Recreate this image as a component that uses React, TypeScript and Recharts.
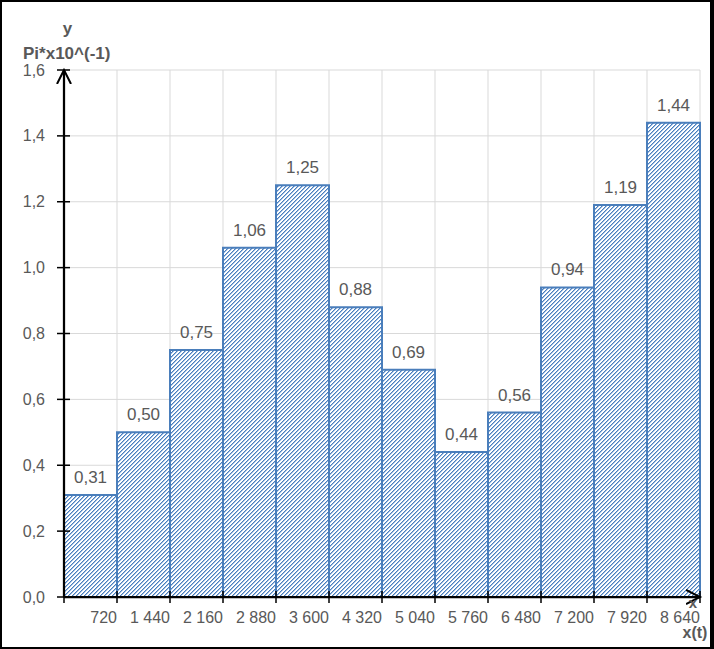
import React from 'react';
import { BarChart, Bar, XAxis, YAxis, CartesianGrid, LabelList } from 'recharts';

// Right edge of each class interval (t)
const binEdges = [720, 1440, 2160, 2880, 3600, 4320, 5040, 5760, 6480, 7200, 7920, 8640];
// Pi * 10^(-1) for each interval
const piValues = [0.31, 0.5, 0.75, 1.06, 1.25, 0.88, 0.69, 0.44, 0.56, 0.94, 1.19, 1.44];
// Axis ticks
const xTicks = [0, 720, 1440, 2160, 2880, 3600, 4320, 5040, 5760, 6480, 7200, 7920, 8640];
const yTicks = [0, 0.2, 0.4, 0.6, 0.8, 1.0, 1.2, 1.4, 1.6];

const data = binEdges.map((edge, i) => ({ cat: String(edge), edge, value: piValues[i] }));

const GRAY_TEXT = '#595959';
const BLUE = '#4a7ebb';
const LIGHT_BLUE = '#9fbde4';
const FONT = '"Liberation Sans", Arial, sans-serif';

const fmt1 = (v: number) => v.toFixed(1).replace('.', ',');
const fmt2 = (v: any) => Number(v).toFixed(2).replace('.', ',');
const fmtX = (v: number) => {
  if (v === 0) return '';
  const s = String(v);
  return s.length > 3 ? s.slice(0, s.length - 3) + ' ' + s.slice(s.length - 3) : s;
};

const YTick = (props: any) => {
  const { x, y, payload } = props;
  return (
    <g>
      <line x1={x + 12} x2={x + 25} y1={y} y2={y} stroke="#000" strokeWidth={1.5} />
      <text x={x} y={y} textAnchor="end" dominantBaseline="central" fill={GRAY_TEXT} fontSize={16} fontFamily={FONT}>
        {fmt1(payload.value)}
      </text>
    </g>
  );
};

const XTick = (props: any) => {
  const { x, y, payload } = props;
  return (
    <g>
      <line x1={x} x2={x} y1={y - 16} y2={y - 4} stroke="#000" strokeWidth={1.5} />
      <text x={x} y={y + 16} textAnchor="end" fill={GRAY_TEXT} fontSize={16} fontFamily={FONT}>
        {fmtX(payload.value)}
      </text>
    </g>
  );
};

export default function App() {
  return (
    <div style={{ position: 'absolute', left: 0, top: 0, width: 714, height: 649, background: '#fff', fontFamily: FONT }}>
      <svg width={0} height={0} style={{ position: 'absolute' }}>
        <defs>
          <pattern id="excelHatch" patternUnits="userSpaceOnUse" x="0" y="0" width="4" height="4">
            <rect x="0" y="0" width="4" height="4" fill="#ffffff" />
            <rect x="3" y="0" width="1" height="1" fill={BLUE} />
            <rect x="2" y="1" width="1" height="1" fill={BLUE} />
            <rect x="1" y="2" width="1" height="1" fill={BLUE} />
            <rect x="0" y="3" width="1" height="1" fill={BLUE} />
            <rect x="0" y="0" width="1" height="1" fill={LIGHT_BLUE} />
            <rect x="3" y="1" width="1" height="1" fill={LIGHT_BLUE} />
            <rect x="2" y="2" width="1" height="1" fill={LIGHT_BLUE} />
            <rect x="1" y="3" width="1" height="1" fill={LIGHT_BLUE} />
          </pattern>
          <marker id="axisArrow" markerUnits="userSpaceOnUse" markerWidth="18" markerHeight="18" refX="14" refY="8" orient="auto-start-reverse">
            <path d="M0,1 L14,8 L0,15" fill="none" stroke="#000" strokeWidth="2" />
          </marker>
        </defs>
      </svg>
      <BarChart
        width={714}
        height={649}
        data={data}
        margin={{ top: 70, right: 14, left: 4, bottom: 0 }}
        barCategoryGap={0}
        barGap={0}
      >
        <CartesianGrid xAxisId="num" stroke="#d9d9d9" strokeWidth={1} />
        <XAxis xAxisId="cat" dataKey="cat" type="category" hide height={0} />
        <XAxis
          xAxisId="num"
          dataKey="edge"
          type="number"
          domain={[0, 8640]}
          ticks={xTicks}
          allowDataOverflow
          interval={0}
          height={52}
          tickSize={6}
          tickMargin={4}
          tickLine={false}
          axisLine={{ stroke: '#000', strokeWidth: 2.25, markerEnd: 'url(#axisArrow)' } as any}
          tick={<XTick />}
        />
        <YAxis
          domain={[0, 1.6]}
          ticks={yTicks}
          interval={0}
          width={60}
          tickSize={7}
          tickMargin={12}
          tickLine={false}
          axisLine={{ stroke: '#000', strokeWidth: 2.25, markerStart: 'url(#axisArrow)' } as any}
          tick={<YTick />}
        />
        <Bar xAxisId="cat" dataKey="value" fill="url(#excelHatch)" stroke={BLUE} strokeWidth={2} isAnimationActive={false}>
          <LabelList dataKey="value" position="top" offset={12} formatter={fmt2} fill={GRAY_TEXT} fontSize={17} fontFamily={FONT} />
        </Bar>
      </BarChart>
      <svg width={714} height={649} style={{ position: 'absolute', left: 0, top: 0, pointerEvents: 'none' }}>
        <g fontFamily={FONT} fontWeight="bold" fill={GRAY_TEXT} fontSize={17}>
          <text x={67.5} y={34} textAnchor="middle">y</text>
          <text x={23} y={59}>Pi*x10^(-1)</text>
          <text x={693} y={608} textAnchor="middle" fontSize={15}>x</text>
          <text x={695} y={638} textAnchor="middle" fontSize={16}>x(t)</text>
        </g>
      </svg>
      <div
        style={{
          position: 'absolute',
          left: 0,
          top: 0,
          width: 714,
          height: 649,
          boxSizing: 'border-box',
          borderTop: '2px solid #000',
          borderLeft: '2px solid #000',
          borderBottom: '2px solid #000',
          borderRight: '4px solid #000',
          pointerEvents: 'none',
        }}
      />
    </div>
  );
}
